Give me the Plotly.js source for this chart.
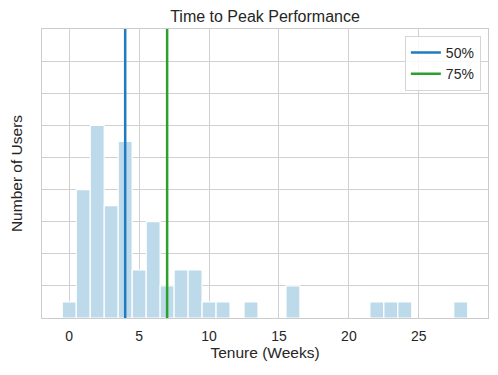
<!DOCTYPE html>
<html>
<head>
<meta charset="utf-8">
<script src="https://cdn.plot.ly/plotly-3.0.1.min.js"></script>
<style>html,body{margin:0;padding:0;background:#fff;}#chart{width:498px;height:375px;}</style>
</head>
<body>
<div id="chart"></div>
<script>
const weeks = [0,1,2,3,4,5,6,7,8,9,10,11,13,16,22,23,24,28];
const users = [1,8,12,7,11,3,6,2,3,3,1,1,1,2,1,1,1,1];
const percentileNames = ["50%","75%"];
const percentileWeeks = [4,7];
const percentileColors = ["#1f7abf","#2ca02c"];
const yMax = 18;

const traces = [{
  type: "bar", x: weeks, y: users, width: 1,
  marker: {color: "rgb(189,218,234)", line: {color: "#ffffff", width: 1.2}},
  showlegend: false, hoverinfo: "skip"
}];
percentileNames.forEach((n, i) => {
  traces.push({
    type: "scatter", mode: "lines", name: n,
    x: [percentileWeeks[i], percentileWeeks[i]], y: [0, yMax],
    line: {color: percentileColors[i], width: 2.5}
  });
});

const layout = {
  width: 498, height: 375,
  margin: {l: 42, r: 10, t: 29, b: 57},
  paper_bgcolor: "#fff", plot_bgcolor: "#fff",
  font: {family: "Liberation Sans, Arial, sans-serif", size: 14, color: "#262626"},
  title: {text: "Time to Peak Performance", x: 0.5, xref: "paper", y: 0.957, yanchor: "middle", font: {size: 16, color: "#262626"}},
  bargap: 0,
  xaxis: {
    range: [-1.95, 29.95], tickvals: [0,5,10,15,20,25], ticks: "",
    ticklabelstandoff: 5,
    showgrid: true, gridcolor: "#d0d0d0", gridwidth: 1, zeroline: false,
    showline: true, linecolor: "#cccccc", linewidth: 1.2, mirror: true,
    title: {text: "Tenure (Weeks)", standoff: 4, font: {size: 15.5}},
    tickfont: {size: 14}
  },
  yaxis: {
    range: [0, yMax], dtick: 2, showticklabels: false, ticks: "",
    showgrid: true, gridcolor: "#d0d0d0", gridwidth: 1, zeroline: false,
    showline: true, linecolor: "#cccccc", linewidth: 1.2, mirror: true,
    title: {text: "Number of Users", standoff: 14, font: {size: 15.5}}
  },
  legend: {
    x: 0.984, xanchor: "right", y: 0.976, yanchor: "top",
    bgcolor: "rgba(255,255,255,0.85)", bordercolor: "#d5d5d5", borderwidth: 1,
    font: {size: 14}
  },
  showlegend: true
};
Plotly.newPlot("chart", traces, layout, {displayModeBar: false, staticPlot: true});
</script>
</body>
</html>
